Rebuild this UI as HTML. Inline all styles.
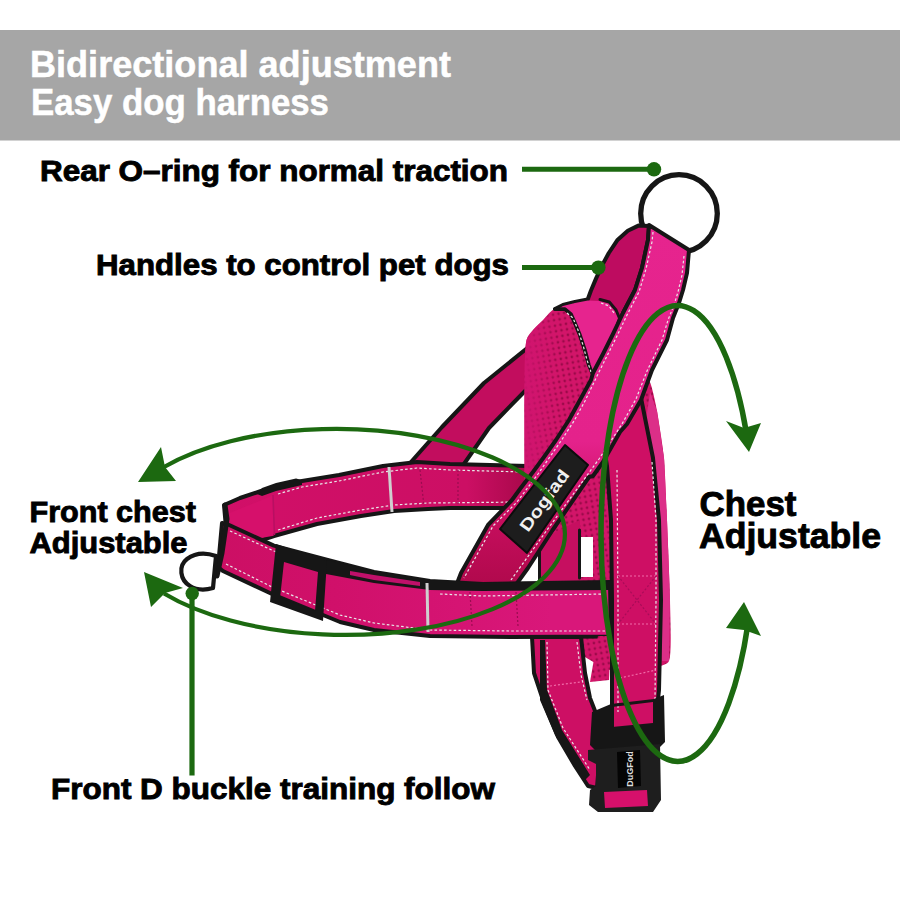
<!DOCTYPE html>
<html><head><meta charset="utf-8"><style>
html,body{margin:0;padding:0;background:#fff;width:900px;height:900px;overflow:hidden}
svg{display:block}
text{font-family:"Liberation Sans",sans-serif;font-weight:bold}
</style></head><body>
<svg width="900" height="900" viewBox="0 0 900 900">
<defs>
<pattern id="mesh" width="5.6" height="5.6" patternUnits="userSpaceOnUse" patternTransform="rotate(-10)"><rect width="5.6" height="5.6" fill="#d21569"/><circle cx="2.8" cy="2.8" r="1.35" fill="#9c0a4a"/></pattern>
<linearGradient id="gMain" gradientUnits="userSpaceOnUse" x1="0" y1="225" x2="0" y2="586"><stop offset="0" stop-color="#e6248e"/><stop offset="0.6" stop-color="#e4228b"/><stop offset="0.8" stop-color="#c80e5f"/><stop offset="1" stop-color="#b0094c"/></linearGradient>
<linearGradient id="gTop" gradientUnits="userSpaceOnUse" x1="222" y1="0" x2="528" y2="0"><stop offset="0" stop-color="#d10f68"/><stop offset="0.8" stop-color="#cc0f64"/><stop offset="1" stop-color="#a8084a"/></linearGradient>
<linearGradient id="gBot" gradientUnits="userSpaceOnUse" x1="218" y1="0" x2="611" y2="0"><stop offset="0" stop-color="#cc0f64"/><stop offset="0.3" stop-color="#d0106a"/><stop offset="0.85" stop-color="#d9177a"/><stop offset="1" stop-color="#d9177a"/></linearGradient>
<linearGradient id="gPad" gradientUnits="userSpaceOnUse" x1="524" y1="0" x2="560" y2="0"><stop offset="0" stop-color="#d01470" stop-opacity="0.9"/><stop offset="1" stop-color="#d01470" stop-opacity="0"/></linearGradient>
</defs>
<rect x="0" y="0" width="900" height="900" fill="#fff"/>
<rect x="0" y="30" width="900" height="110.5" fill="#a6a6a6"/>
<ellipse cx="679" cy="213.5" rx="38.3" ry="38.8" fill="none" stroke="#161616" stroke-width="5.3"/>
<path d="M546,330 L531,345 L484,383 L442,427 L411,462 L457,474 L489,428 L525,391 L548,372 Z" fill="#c20d5e" stroke="#161616" stroke-width="4" stroke-linejoin="round"/>
<path d="M224,505 L240,498 L261,491 L276,487 L302,481 L339,475 L383,466 L417,462 L450,464 L528,466 L528,508 L450,508 L428,509 L394,511 L361,516 L317,524 L274,536 L250,544 L228,551 Z" fill="url(#gTop)" stroke="#161616" stroke-width="4" stroke-linejoin="round"/>
<path d="M229.7,513 L272.3,495.7 L273.7,535.7 L250,540 L230,521 Z" fill="#d6106b"/>
<path d="M278,494 L302,487 L339,481 L383,472 L417,468 L450,470 L525,472" fill="none" stroke="#e8e8e8" stroke-width="1.2" stroke-dasharray="2.6 2.2"/>
<path d="M278,530 L317,518 L361,510 L394,505 L428,503 L525,502" fill="none" stroke="#e8e8e8" stroke-width="1.2" stroke-dasharray="2.6 2.2"/>
<path d="M257,494 L262,488 L276,483 L296,478.5 L302,480 L302,485 L276,491 L262,496 Z" fill="#161616"/>
<path d="M273,495 L274.5,535" stroke="#b80f62" stroke-width="1.5"/>
<path d="M389,467 L392,512" stroke="#cfcfcf" stroke-width="3"/>
<path d="M420,470 L424,506" fill="none" stroke="#9a0c50" stroke-width="1.2" stroke-dasharray="2 2"/>
<path d="M458,470 L458,506" fill="none" stroke="#9a0c50" stroke-width="1.2" stroke-dasharray="2 2"/>
<path d="M544.0,319.0 C546.6,316.0 550.8,311.2 553.0,310.0 C555.2,308.8 561.3,308.0 566.0,307.0 C570.7,306.0 592.6,294.7 600.0,300.0 C607.4,305.3 634.9,351.5 640.0,360.0 C645.1,368.5 649.3,379.9 651.0,385.0 C652.7,390.1 655.7,403.7 657.0,411.0 C658.3,418.3 663.0,447.1 664.0,458.0 C665.0,468.9 666.4,505.8 667.0,520.0 C667.6,534.2 669.8,585.9 670.0,600.0 C670.2,614.1 672.0,654.2 669.0,661.0 C666.0,667.8 645.9,667.1 640.0,668.0 C634.1,668.9 615.0,670.8 610.0,670.0 C605.0,669.2 595.0,663.0 590.0,660.0 C585.0,657.0 566.0,646.0 560.0,640.0 C554.0,634.0 533.5,610.0 530.0,600.0 C526.5,590.0 525.0,553.9 524.5,540.0 C524.0,526.1 524.5,475.7 524.5,461.0 C524.5,446.3 524.3,405.1 524.5,393.0 C524.7,380.9 524.5,347.4 526.5,340.0 C528.5,332.6 541.4,322.0 544.0,319.0 Z" fill="url(#mesh)"/>
<path d="M544.0,319.0 C546.6,316.0 550.8,311.2 553.0,310.0 C555.2,308.8 561.3,308.0 566.0,307.0 C570.7,306.0 592.6,294.7 600.0,300.0 C607.4,305.3 634.9,351.5 640.0,360.0 C645.1,368.5 649.3,379.9 651.0,385.0 C652.7,390.1 655.7,403.7 657.0,411.0 C658.3,418.3 663.0,447.1 664.0,458.0 C665.0,468.9 666.4,505.8 667.0,520.0 C667.6,534.2 669.8,585.9 670.0,600.0 C670.2,614.1 672.0,654.2 669.0,661.0 C666.0,667.8 645.9,667.1 640.0,668.0 C634.1,668.9 615.0,670.8 610.0,670.0 C605.0,669.2 595.0,663.0 590.0,660.0 C585.0,657.0 566.0,646.0 560.0,640.0 C554.0,634.0 533.5,610.0 530.0,600.0 C526.5,590.0 525.0,553.9 524.5,540.0 C524.0,526.1 524.5,475.7 524.5,461.0 C524.5,446.3 524.3,405.1 524.5,393.0 C524.7,380.9 524.5,347.4 526.5,340.0 C528.5,332.6 541.4,322.0 544.0,319.0 Z" fill="url(#gPad)"/>
<path d="M650,392 L657,411 L664,458 L667,520 L670,600 L669,661 L662,661 L661,600 L659,520 L653,458 L646,420 Z" fill="#dc2f88"/>
<path d="M513,584 L539,553 L540,584 Z" fill="#fff"/>
<path d="M581,537 L593,537 L593,577 L581,577 Z" fill="#fff"/>
<path d="M539,540 L580,520 L580,584 L539,584 Z" fill="#c60f60"/>
<path d="M539.5,545 L539.5,584" fill="none" stroke="#161616" stroke-width="3" stroke-linejoin="round" stroke-linecap="round"/>
<path d="M579.5,530 L579.5,578" fill="none" stroke="#161616" stroke-width="3" stroke-linejoin="round" stroke-linecap="round"/>
<path d="M638.4,225.6 L627.8,230.8 L617.2,240.3 L608.8,253 L602.5,264.6 L596.1,278.4 L590.8,291 L587.7,299.5 L575,302 L563,305 L555,309 L565,309 L571,314 L575,323 L580,335 L585,350 L589,365 L593,373 L603,354 L613,334 L623,313 L635,290 L642,268 L648,240 L649,226 Z" fill="#be0c60" stroke="#161616" stroke-width="4" stroke-linejoin="round"/>
<path d="M557,309.5 L563,306 L575,303 L588,300.5 L600,301 L609,303.5 L615,310 L618,317 L613,334 L603,354 L593,371 L589,365 L585,350 L580,335 L575,323 L571,314 L565,310 Z" fill="#e6248e"/>
<path d="M555,309 L565,309 L571,314 L575,323 L580,335 L585,350 L589,365 L592,373" fill="none" stroke="#161616" stroke-width="3.5" stroke-linejoin="round" stroke-linecap="round"/>
<path d="M600,299.5 L609.3,302 L616,310 L619,317" fill="none" stroke="#161616" stroke-width="3" stroke-linejoin="round" stroke-linecap="round"/>
<path d="M601,303 L609,306 L614,313" fill="none" stroke="#e8e8e8" stroke-width="1.2" stroke-dasharray="2.6 2.2"/>
<path d="M567,313 L573,318 L578,330 L583,345 L587,360 L591,372" fill="none" stroke="#e8e8e8" stroke-width="1.2" stroke-dasharray="2.6 2.2"/>
<path d="M598,410 L641,398 L653,458 L659,520 L661,600 L659,690 L655,728 L612,730 L612,600 L611,520 L607,466 Z" fill="#ce0f64" stroke="#161616" stroke-width="4" stroke-linejoin="round"/>
<path d="M617,470 L618,600 L618,712" fill="none" stroke="#e8e8e8" stroke-width="1.2" stroke-dasharray="2.6 2.2"/>
<path d="M652,462 L656,520 L656,600 L655,700" fill="none" stroke="#e8e8e8" stroke-width="1.2" stroke-dasharray="2.6 2.2"/>
<path d="M618,576 L656,576" fill="none" stroke="#f06aa8" stroke-width="1.2" stroke-dasharray="2 2"/>
<path d="M618,624 L656,624" fill="none" stroke="#f06aa8" stroke-width="1.2" stroke-dasharray="2 2"/>
<path d="M620,678 L656,670" fill="none" stroke="#f06aa8" stroke-width="1.2" stroke-dasharray="2 2"/>
<path d="M618,576 L656,624" fill="none" stroke="#a80c58" stroke-width="1.2" stroke-dasharray="2 2"/>
<path d="M656,576 L618,624" fill="none" stroke="#a80c58" stroke-width="1.2" stroke-dasharray="2 2"/>
<path d="M649,225 L689,250 L687,273 L683,290 L679,303 L673,318 L667,340 L652,370 L641,400 L627,424 L620,432 L603,462 L593,476 L589,477 L552,531 L528,568 L515,586 L456,586 L461,573 L488,525 L512,500 L520,489 L533,472 L544,457 L556,440 L569,420 L580,400 L591,380 L593,373 L603,354 L613,334 L623,313 L635,290 L642,268 L648,240 Z" fill="url(#gMain)" stroke="#161616" stroke-width="4" stroke-linejoin="round"/>
<path d="M684,256 L682,275 L678,292 L674,305 L668,320 L662,340 L647,371 L636,399 L622,424 L599,459 L547,530 L511,580" fill="none" stroke="#e8e8e8" stroke-width="1.2" stroke-dasharray="2.6 2.2"/>
<path d="M653,232 L652,242 L646,269 L639,292 L627,315 L617,336 L607,356 L597,376 L585,401 L574,421 L561,441 L538,474 L517,502 L493,526 L464,578" fill="none" stroke="#e8e8e8" stroke-width="1.2" stroke-dasharray="2.6 2.2"/>
<path d="M565,445 L588,465 L527,553 L500,529 Z" fill="#1d1d1d" stroke="#0c0c0c" stroke-width="2" stroke-linejoin="round"/>
<text transform="translate(545,501) rotate(-54)" font-size="17" fill="#f0f0f0" text-anchor="middle" textLength="72" lengthAdjust="spacingAndGlyphs" dy="5">Dogfad</text>
<path d="M222,523 L228.6,524.8 L273.9,545.6 L330.6,560.7 L374,572 L430,581 L483,584 L610,582 L611,636.5 L511,637 L430,636 L374,630 L340,622 L272,594 L222.9,571 L218,567 Z" fill="url(#gBot)" stroke="#161616" stroke-width="4" stroke-linejoin="round"/>
<path d="M326,560 L374,571 L430,580 L483,583 L610,581 L610,590 L483,591 L430,590 L374,583 L326,574 Z" fill="#161616"/>
<path d="M350,571 L374,575 L420,582 L420,586 L374,580 L350,575 Z" fill="#c0106a"/>
<path d="M230,531 L274,551 L324,566" fill="none" stroke="#e8e8e8" stroke-width="1.2" stroke-dasharray="2.6 2.2"/>
<path d="M440,594 L483,596 L606,594" fill="none" stroke="#e8e8e8" stroke-width="1.2" stroke-dasharray="2.6 2.2"/>
<path d="M226,564 L272,587 L340,615 L374,623 L430,630 L511,631 L606,631" fill="none" stroke="#e8e8e8" stroke-width="1.2" stroke-dasharray="2.6 2.2"/>
<path d="M427,583 L428,632" stroke="#cfcfcf" stroke-width="3"/>
<path d="M470,592 L472,626" fill="none" stroke="#9a0c50" stroke-width="1.2" stroke-dasharray="2 2"/>
<path d="M516,592 L518,626" fill="none" stroke="#9a0c50" stroke-width="1.2" stroke-dasharray="2 2"/>
<path d="M225,505 L227,519 L222,553 L217,576" fill="none" stroke="#161616" stroke-width="5" stroke-linejoin="round" stroke-linecap="round"/>
<path d="M276,544 L327,561 L323,621 L270,602 Z M284,562 L318,572 L315,611 L280,598 Z" fill="#161616" fill-rule="evenodd"/>
<path d="M216,556 C205,552 195,553 187,559 C178,566 180,580 190,586 C198,591 206,590 213,588 Z" fill="none" stroke="#161616" stroke-width="4.2" stroke-linejoin="round"/>
<path d="M598,636 L611,636 L609,680 L590,682 Z" fill="url(#mesh)"/>
<path d="M532,637 L581,637 L585,673 L590,698 L597,716 L600,750 L597,788 L588,786 L575,766 L558,737 L544,703 L534,673 Z" fill="#cd0f64" stroke="#161616" stroke-width="4" stroke-linejoin="round"/>
<path d="M540,640 L545,640 L547,690 L562,730 L590,775 L585,780 L555,735 L540,700 Z" fill="#161616"/>
<path d="M547,642 L548,690 L563,728 L590,770" fill="none" stroke="#e8e8e8" stroke-width="1.2" stroke-dasharray="2.6 2.2"/>
<path d="M577,642 L581,675 L587,700" fill="none" stroke="#e8e8e8" stroke-width="1.2" stroke-dasharray="2.6 2.2"/>
<path d="M550,686 L580,682" fill="none" stroke="#f06aa8" stroke-width="1.2" stroke-dasharray="2 2"/>
<path d="M592,712 L611,704 L654,699 L664,695 L665,742 L657,750 L597,752 L590,745 Z M612,707 L653,702 L653,723 L612,727 Z" fill="#161616" fill-rule="evenodd"/>
<path d="M588,750 L660,744 L661,800 L653,812 L598,812 L589,805 L590,790 L596,786 L596,764 L588,760 Z" fill="#1e1e1e"/>
<path d="M617,752 L640,750 L641,786 L618,788 Z" fill="#050505"/>
<text transform="translate(630,769) rotate(-90)" font-size="9" fill="#ddd" text-anchor="middle" dy="3">DuGFod</text>
<path d="M604,792 L647,790 L648,806 L605,808 Z" fill="#d6106b"/>
<path d="M164,467 A224.1,103 0.68 1 1 164,593.5" fill="none" stroke="#1c6910" stroke-width="4.2"/>
<polygon points="138,482 161,447 165,467 176,481" fill="#1c6910"/>
<polygon points="144,572 183,588 165,593 151,607" fill="#1c6910"/>
<path d="M746.4,433 A76.6,227.9 0 1 0 747.8,625" fill="none" stroke="#1c6910" stroke-width="5.5"/>
<polygon points="749,452 726,421 744,428 761,423" fill="#1c6910"/>
<polygon points="744,602 726,628 744,630 761,636" fill="#1c6910"/>
<line x1="522" y1="169.3" x2="654" y2="169.3" stroke="#1c6910" stroke-width="5"/>
<circle cx="654" cy="169.3" r="7.2" fill="#1c6910"/>
<line x1="522" y1="267.6" x2="598" y2="267.6" stroke="#1c6910" stroke-width="5"/>
<circle cx="598.4" cy="267.6" r="7.2" fill="#1c6910"/>
<line x1="192" y1="593" x2="192" y2="775.6" stroke="#1c6910" stroke-width="5.2"/>
<circle cx="192.2" cy="593.5" r="6.7" fill="#1c6910"/>
<text x="30" y="77" font-size="36" textLength="421" lengthAdjust="spacingAndGlyphs" fill="#fff" stroke="#fff" stroke-width="0.5">Bidirectional adjustment</text>
<text x="31" y="115" font-size="36" textLength="298" lengthAdjust="spacingAndGlyphs" fill="#fff" stroke="#fff" stroke-width="0.5">Easy dog harness</text>
<text x="40" y="181" font-size="29" textLength="468" lengthAdjust="spacingAndGlyphs" fill="#000" stroke="#000" stroke-width="0.9">Rear O–ring for normal traction</text>
<text x="96" y="274.5" font-size="29" textLength="413" lengthAdjust="spacingAndGlyphs" fill="#000" stroke="#000" stroke-width="0.9">Handles to control pet dogs</text>
<text x="29.5" y="521.8" font-size="29" textLength="166.5" lengthAdjust="spacingAndGlyphs" fill="#000" stroke="#000" stroke-width="0.9">Front chest</text>
<text x="29.5" y="553.3" font-size="29" textLength="158" lengthAdjust="spacingAndGlyphs" fill="#000" stroke="#000" stroke-width="0.9">Adjustable</text>
<text x="699.5" y="515.6" font-size="35" textLength="97" lengthAdjust="spacingAndGlyphs" fill="#000" stroke="#000" stroke-width="0.9">Chest</text>
<text x="699" y="547.8" font-size="35" textLength="182" lengthAdjust="spacingAndGlyphs" fill="#000" stroke="#000" stroke-width="0.9">Adjustable</text>
<text x="51" y="798.8" font-size="29" textLength="444" lengthAdjust="spacingAndGlyphs" fill="#000" stroke="#000" stroke-width="0.9">Front D buckle training follow</text>
</svg>
</body></html>
